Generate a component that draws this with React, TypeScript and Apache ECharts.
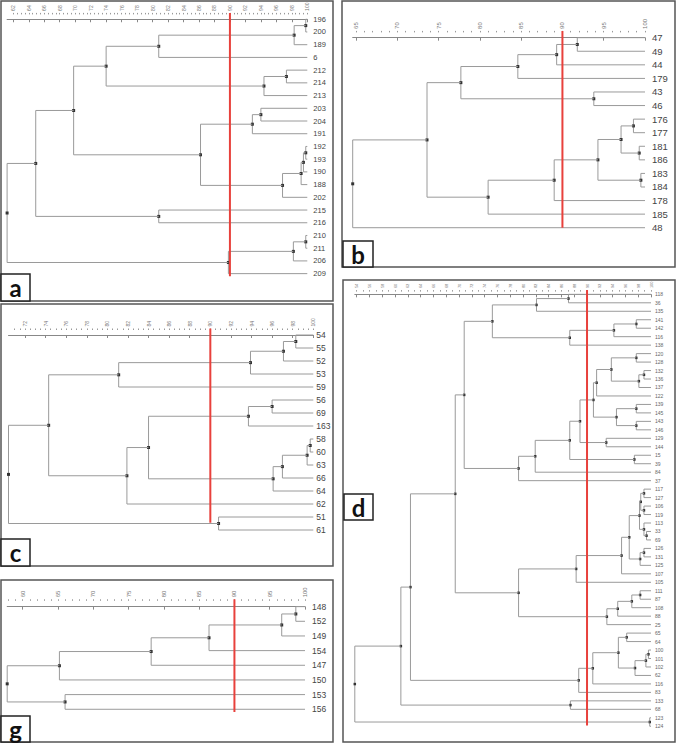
import React, { useEffect, useRef } from 'react';
import * as echarts from 'echarts';

const THRESHOLD = 90;

// ---------- panel a ----------
const aLeaves = ['196', '200', '189', '6', '212', '214', '213', '203', '204', '191', '192', '193', '190', '188', '202', '215', '216', '210', '211', '206', '209'];
const aMerges: [string, string, number][] = [
  ['196', '200', 99.8], ['#0', '189', 98.3], ['#1', '6', 80.8],
  ['212', '214', 97.3], ['#3', '213', 94.4], ['#2', '#4', 74.0],
  ['203', '204', 94.0], ['#6', '191', 92.9],
  ['192', '193', 99.8], ['#8', '190', 99.5], ['#9', '188', 99.2], ['#10', '202', 96.8],
  ['#7', '#11', 86.2], ['#5', '#12', 69.8],
  ['215', '216', 80.8], ['#13', '#14', 64.9],
  ['210', '211', 99.8], ['#16', '206', 98.2], ['#17', '209', 89.8],
  ['#15', '#18', 61.2],
];
const aTickLabels = [62, 64, 66, 68, 70, 72, 74, 76, 78, 80, 82, 84, 86, 88, 90, 92, 94, 96, 98, 100];

// ---------- panel b ----------
const bLeaves = ['47', '49', '44', '179', '43', '46', '176', '177', '181', '186', '183', '184', '178', '185', '48'];
const bMerges: [string, string, number][] = [
  ['47', '49', 91.8], ['#0', '44', 89.3], ['#1', '179', 84.6],
  ['43', '46', 93.8], ['#2', '#3', 77.7],
  ['176', '177', 98.6], ['181', '186', 99.3], ['#5', '#6', 97.1],
  ['183', '184', 99.5], ['#7', '#8', 94.3], ['#9', '178', 89.0], ['#10', '185', 81.0],
  ['#4', '#11', 73.6], ['#12', '48', 64.6],
];
const bTickLabels = [65, 70, 75, 80, 85, 90, 95, 100];

// ---------- panel c ----------
const cLeaves = ['54', '55', '52', '53', '59', '56', '69', '163', '58', '60', '63', '66', '64', '62', '51', '61'];
const cMerges: [string, string, number][] = [
  ['54', '55', 98.3], ['#0', '52', 97.1], ['#1', '53', 93.9], ['#2', '59', 81.1],
  ['56', '69', 96.0], ['#4', '163', 93.7],
  ['58', '60', 99.7], ['#6', '63', 99.4], ['#7', '66', 97.0], ['#8', '64', 96.1],
  ['#5', '#9', 84.0], ['#10', '62', 81.9], ['#3', '#11', 74.3],
  ['51', '61', 90.8], ['#12', '#13', 70.4],
];
const cTickLabels = [72, 74, 76, 78, 80, 82, 84, 86, 88, 90, 92, 94, 96, 98, 100];

// ---------- panel d ----------
const dLeaves = ['118', '36', '135', '141', '142', '116', '138', '120', '128', '132', '136', '137', '122', '139', '145', '143', '146', '129', '144', '15', '39', '84', '37', '117', '127', '106', '119', '113', '33', '69', '126', '131', '125', '107', '105', '111', '87', '108', '88', '25', '65', '64', '100', '101', '102', '62', '116', '83', '133', '68', '123', '124'];
const dMerges: [string, string, number][] = [
  ['118', '36', 87.1], ['#0', '135', 82.1],
  ['141', '142', 97.7], ['#2', '116', 94.2], ['#3', '138', 87.3], ['#1', '#4', 75.2],
  ['120', '128', 97.7], ['132', '136', 98.9], ['#7', '137', 98.1], ['#6', '#8', 93.8], ['#9', '122', 91.5],
  ['139', '145', 97.7], ['143', '146', 97.7], ['#11', '#12', 94.6], ['#10', '#13', 91.0],
  ['129', '144', 93.0], ['#14', '#15', 88.9], ['15', '39', 97.4], ['#16', '#17', 87.3],
  ['#18', '84', 81.9], ['#19', '37', 79.3], ['#5', '#20', 70.8],
  ['117', '127', 98.9], ['106', '119', 98.9], ['#22', '#23', 98.4],
  ['33', '69', 99.3], ['113', '#25', 98.9], ['#24', '#26', 98.2],
  ['126', '131', 98.9], ['#28', '125', 98.3], ['#27', '#29', 96.6], ['#30', '107', 95.4], ['#31', '105', 88.3],
  ['111', '87', 98.3], ['#33', '108', 97.0], ['#34', '88', 94.8], ['#35', '25', 93.1],
  ['#32', '#36', 79.3], ['#21', '#37', 69.4],
  ['65', '64', 96.2], ['100', '101', 99.6], ['#40', '102', 99.2], ['#41', '62', 97.5],
  ['#39', '#42', 94.9], ['#43', '116', 90.9], ['#44', '83', 88.7],
  ['#38', '#45', 62.4], ['133', '68', 87.4], ['#46', '#47', 60.9],
  ['123', '124', 99.8], ['#48', '#49', 53.7],
];
const dTickLabels = [54, 56, 58, 60, 62, 64, 66, 68, 70, 72, 74, 76, 78, 80, 82, 84, 86, 88, 90, 92, 94, 96, 98, 100];

// ---------- panel g ----------
const gLeaves = ['148', '152', '149', '154', '147', '150', '153', '156'];
const gMerges: [string, string, number][] = [
  ['148', '152', 98.7], ['#0', '149', 96.7], ['#1', '154', 86.4],
  ['#2', '147', 78.2], ['#3', '150', 65.2],
  ['153', '156', 66.0], ['#4', '#5', 57.8],
];
const gTickLabels = [60, 65, 70, 75, 80, 85, 90, 95, 100];

function range(start: number, end: number, step: number) {
  const out: number[] = [];
  for (let v = start; v <= end + 1e-9; v += step) out.push(Math.round(v * 100) / 100);
  return out;
}

function buildLinks(leaves: string[], merges: [string, string, number][]) {
  const used = new Set<number>();
  const nodes: { x: number; y: number }[] = [];
  const leafPos = (label: string) => {
    const idx = leaves.findIndex((l, i) => l === label && !used.has(i));
    used.add(idx);
    return { x: 100, y: idx };
  };
  const get = (ref: string) => (ref.startsWith('#') ? nodes[+ref.slice(1)] : leafPos(ref));
  return merges.map(([l, r, h]) => {
    const A = get(l);
    const B = get(r);
    const node = { x: h, y: (A.y + B.y) / 2 };
    nodes.push(node);
    return [h, A.y, B.y, A.x, B.x, node.y];
  });
}

const panels = [
  { key: 'a', leaves: aLeaves, merges: aMerges, ticks: aTickLabels, min: 61.2, minorStep: 0.5, redEnd: 20.2,
    grid: { left: 7.1, top: 12.9, width: 300.2, height: 267.1 }, leafFont: 7.5, leafMargin: 6, tickFont: 5, dot: 3 },
  { key: 'b', leaves: bLeaves, merges: bMerges, ticks: bTickLabels, min: 64.6, minorStep: 1, redEnd: 14.0,
    grid: { left: 352.7, top: 30.9, width: 292.3, height: 203.6 }, leafFont: 9.5, leafMargin: 7, tickFont: 6, dot: 3 },
  { key: 'c', leaves: cLeaves, merges: cMerges, ticks: cTickLabels, min: 70.4, minorStep: 0.5, redEnd: 14.45,
    grid: { left: 8.5, top: 328.5, width: 304.8, height: 208 }, leafFont: 8.5, leafMargin: 3, tickFont: 5, dot: 3 },
  { key: 'g', leaves: gLeaves, merges: gMerges, ticks: gTickLabels, min: 57.8, minorStep: 1, redEnd: 7.18,
    grid: { left: 7.2, top: 599.3, width: 297.8, height: 117.3 }, leafFont: 8.5, leafMargin: 7, tickFont: 6, dot: 3 },
  { key: 'd', leaves: dLeaves, merges: dMerges, ticks: dTickLabels, min: 53.7, minorStep: 1, redEnd: 50.9,
    grid: { left: 354.8, top: 290.1, width: 296.2, height: 440.4 }, leafFont: 5, leafMargin: 4, tickFont: 4, dot: 2.5 },
];

const FONT = '"Liberation Sans", Arial, sans-serif';

export default function App() {
  const ref = useRef<HTMLDivElement>(null);
  useEffect(() => {
    if (!ref.current) return;
    const chart = echarts.init(ref.current, null, { renderer: 'svg' });
    const grids: any[] = [];
    const xAxes: any[] = [];
    const yAxes: any[] = [];
    const series: any[] = [];
    panels.forEach((p, i) => {
      grids.push({ ...p.grid, containLabel: false, outerBoundsMode: 'none' });
      xAxes.push({
        type: 'value', gridIndex: i, position: 'top', min: p.min, max: 100,
        axisLine: { show: true, lineStyle: { color: '#888', width: 1 } },
        axisTick: { show: true, inside: true, length: 3, customValues: p.ticks, lineStyle: { color: '#888' } },
        axisLabel: { customValues: p.ticks, rotate: 90, fontSize: p.tickFont, color: '#777', margin: 2, fontFamily: FONT },
        splitLine: { show: false },
      });
      xAxes.push({
        type: 'value', gridIndex: i, position: 'top', min: p.min, max: 100,
        axisLine: { show: false },
        axisTick: { show: true, inside: true, length: 1.5, customValues: range(Math.ceil(p.min), 100, p.minorStep), lineStyle: { color: '#999' } },
        axisLabel: { show: false },
        splitLine: { show: false },
      });
      const n = p.leaves.length;
      yAxes.push({ type: 'value', gridIndex: i, min: -0.5, max: n - 0.5, inverse: true, show: false });
      yAxes.push({
        type: 'category', gridIndex: i, data: p.leaves, inverse: true, position: 'right',
        axisLine: { show: false }, axisTick: { show: false }, splitLine: { show: false },
        axisLabel: { interval: 0, fontSize: p.leafFont, color: p.key === 'd' ? '#666' : '#444', margin: p.leafMargin, fontFamily: FONT },
      });
      const dot = p.dot;
      series.push({
        type: 'custom', xAxisIndex: 2 * i, yAxisIndex: 2 * i,
        data: buildLinks(p.leaves, p.merges),
        encode: { x: [0, 3, 4], y: [1, 2, 5] },
        clip: false,
        renderItem: (params: any, api: any) => {
          const h = api.value(0), y1 = api.value(1), y2 = api.value(2), x1 = api.value(3), x2 = api.value(4), ym = api.value(5);
          const pA = api.coord([h, y1]);
          const pB = api.coord([h, y2]);
          const pC = api.coord([x1, y1]);
          const pD = api.coord([x2, y2]);
          const pM = api.coord([h, ym]);
          return {
            type: 'group',
            children: [
              { type: 'polyline', shape: { points: [pC, pA, pB, pD] }, style: { stroke: '#9a9a9a', fill: 'none', lineWidth: 1 } },
              { type: 'rect', shape: { x: pM[0] - dot / 2, y: pM[1] - dot / 2, width: dot, height: dot }, style: { fill: '#333' } },
            ],
          };
        },
        z: 2,
      });
      series.push({
        type: 'line', xAxisIndex: 2 * i, yAxisIndex: 2 * i,
        data: [[THRESHOLD, -0.5], [THRESHOLD, p.redEnd]],
        symbol: 'none', lineStyle: { color: '#e8413c', width: 2 }, z: 5, silent: true,
      });
    });

    const boxes = [
      { x: 1, y: 1, w: 332, h: 300 },
      { x: 342, y: 1, w: 333, h: 266 },
      { x: 1, y: 304, w: 332, h: 262 },
      { x: 343, y: 280, w: 332, h: 462 },
      { x: 1, y: 580, w: 332, h: 162 },
    ];
    const letters = [
      { t: 'a', x: 1, y: 274, w: 29, h: 27 },
      { t: 'b', x: 343, y: 241, w: 30, h: 26 },
      { t: 'c', x: 1, y: 539, w: 29, h: 27 },
      { t: 'd', x: 344, y: 494, w: 29, h: 26 },
      { t: 'g', x: 1, y: 716, w: 29, h: 26 },
    ];
    const graphic: any[] = [];
    boxes.forEach((b) => graphic.push({ type: 'rect', shape: { x: b.x, y: b.y, width: b.w, height: b.h }, style: { fill: 'none', stroke: '#555', lineWidth: 1.5 }, z: 1 }));
    letters.forEach((l) => {
      graphic.push({ type: 'rect', shape: { x: l.x, y: l.y, width: l.w, height: l.h }, style: { fill: '#fff', stroke: '#222', lineWidth: 1.5 }, z: 10 });
      graphic.push({ type: 'text', x: l.x + l.w / 2, y: l.y + l.h / 2, style: { text: l.t, fill: '#111', font: 'bold 24px Lato, "Open Sans", sans-serif', textAlign: 'center', textVerticalAlign: 'middle' }, z: 11 });
    });

    chart.setOption({
      animation: false,
      backgroundColor: '#fff',
      textStyle: { fontFamily: FONT },
      grid: grids,
      xAxis: xAxes,
      yAxis: yAxes,
      series,
      graphic,
    });
    return () => chart.dispose();
  }, []);
  return <div ref={ref} style={{ position: 'absolute', left: 0, top: 0, width: 676, height: 743 }} />;
}
